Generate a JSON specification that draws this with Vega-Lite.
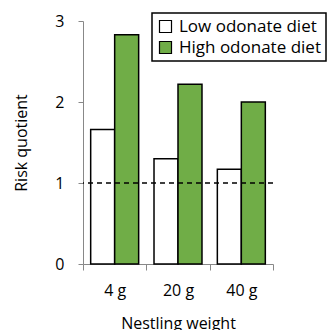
{
  "$schema": "https://vega.github.io/schema/vega-lite/v6.json",
  "autosize": {"type": "none"},
  "width": 190,
  "height": 243,
  "padding": {"left": 83, "top": 21, "right": 57, "bottom": 66},
  "background": "white",
  "config": {
    "view": {"stroke": null},
    "font": "Open Sans",
    "legend": {"strokeWidth": 1.5}
  },
  "data": {
    "values": [
      {"weight": "4 g", "diet": "Low odonate diet", "rq": 1.66},
      {"weight": "4 g", "diet": "High odonate diet", "rq": 2.83},
      {"weight": "20 g", "diet": "Low odonate diet", "rq": 1.30},
      {"weight": "20 g", "diet": "High odonate diet", "rq": 2.22},
      {"weight": "40 g", "diet": "Low odonate diet", "rq": 1.17},
      {"weight": "40 g", "diet": "High odonate diet", "rq": 2.00}
    ]
  },
  "layer": [
    {
      "mark": {"type": "bar", "stroke": "black", "strokeWidth": 1.5},
      "encoding": {
        "x": {
          "field": "weight", "type": "nominal", "sort": ["4 g", "20 g", "40 g"],
          "scale": {"paddingInner": 0, "paddingOuter": 0},
          "axis": {
            "title": "Nestling weight", "labelAngle": 0, "tickBand": "extent",
            "domainColor": "#888", "tickColor": "#888", "tickSize": 6,
            "labelFontSize": 16, "labelColor": "black", "labelPadding": 12,
            "titleFontSize": 16, "titleFontWeight": "normal", "titleColor": "black", "titlePadding": 17
          }
        },
        "xOffset": {
          "field": "diet", "type": "nominal", "sort": ["Low odonate diet", "High odonate diet"],
          "scale": {"paddingInner": 0, "paddingOuter": 0.32}
        },
        "y": {
          "field": "rq", "type": "quantitative",
          "scale": {"domain": [0, 3]},
          "axis": {
            "title": "Risk quotient", "values": [0, 1, 2, 3], "format": "d", "grid": false,
            "domainColor": "#888", "tickColor": "#888", "tickSize": 5,
            "labelFontSize": 16, "labelColor": "black", "labelPadding": 14,
            "titleFontSize": 16, "titleFontWeight": "normal", "titleColor": "black", "titlePadding": 25
          }
        },
        "fill": {
          "field": "diet", "type": "nominal",
          "sort": ["Low odonate diet", "High odonate diet"],
          "scale": {"domain": ["Low odonate diet", "High odonate diet"], "range": ["white", "#70AD47"]},
          "legend": {
            "title": null, "orient": "none", "legendX": 69, "legendY": -8,
            "symbolType": "square", "symbolSize": 144, "symbolStrokeColor": "black", "symbolStrokeWidth": 1.2,
            "labelFontSize": 17, "labelColor": "black", "labelOffset": 5,
            "strokeColor": "black", "padding": 5, "rowPadding": 3, "fillColor": "white"
          }
        }
      }
    },
    {
      "data": {"values": [{"ref": 1}]},
      "mark": {"type": "rule", "stroke": "black", "strokeWidth": 1.5, "strokeDash": [5, 4]},
      "encoding": {"y": {"field": "ref", "type": "quantitative"}}
    }
  ]
}
